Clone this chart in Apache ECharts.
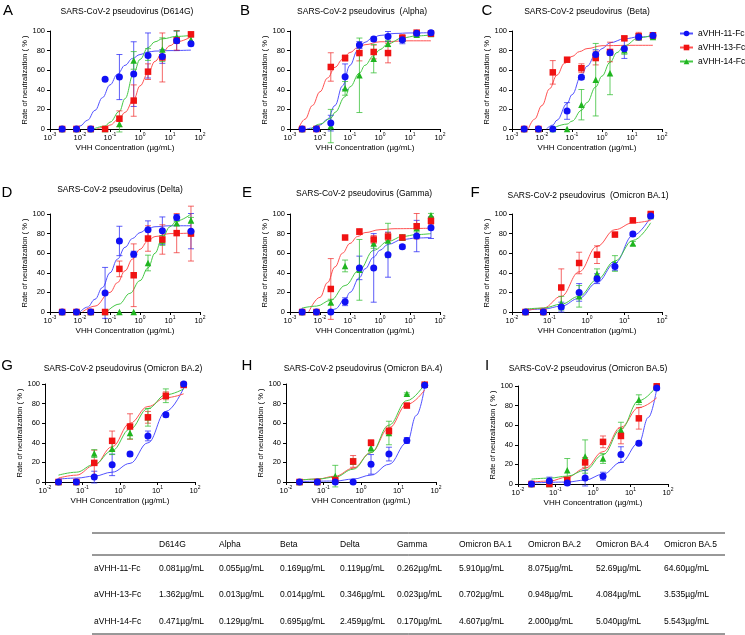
<!DOCTYPE html>
<html><head><meta charset="utf-8">
<script src="https://cdn.jsdelivr.net/npm/echarts@6/dist/echarts.min.js"></script>
<style>html,body{margin:0;padding:0;background:#fff}#c{width:745px;height:635px}</style>
</head><body><div id="c"></div>
<script>
// ---------- DATA ----------
const antibodyNames = ['aVHH-11-Fc', 'aVHH-13-Fc', 'aVHH-14-Fc'];
const conc10 = [0.00254, 0.00762, 0.0229, 0.0686, 0.206, 0.617, 1.85, 5.56, 16.7, 50];
const conc8 = [0.0229, 0.0686, 0.206, 0.617, 1.85, 5.56, 16.7, 50];
const yTicks = [0, 20, 40, 60, 80, 100];

// A: D614G
const A11 = [0, 0, 0, 50.7, 53, 56, 75, 74, 90, 87];
const A11e = [0, 0, 0, 1.5, 23, 33, 23, 7, 10, 2];
const A13 = [0, 0, 0, 0, 10.5, 29, 58.5, 73, 90.5, 96.6];
const A13e = [0, 0, 0, 0, 8, 16, 8, 25, 10, 2];
const A14 = [0, 0, 0, 0, 5, 70, 76, 81, 94, 91];
const A14e = [0, 0, 0, 0, 8, 9, 6, 12, 6, 3];
const fitA11 = [[0.0063,0],[0.01,3],[0.0178,9],[0.0316,19],[0.0562,32],[0.1,45],[0.178,56],[0.316,65],[0.562,72],[1,76],[1.78,78.5],[3.16,79.5],[10,80],[50,80.5]];
const fitA13 = [[0.036,0],[0.0686,2],[0.1,4],[0.206,11],[0.316,17],[0.617,30],[1,44],[1.85,57],[3.16,69],[5.56,78],[10,85],[16.7,89],[50,94]];
const fitA14 = [[0.028,0],[0.0686,3],[0.1,7],[0.206,18],[0.316,31],[0.617,57],[1,71],[1.85,83],[3.16,89],[5.56,92],[16.7,94.5],[50,95.5]];

// B: Alpha
const B11 = [0, 0, 6, 53.4, 85.7, 91.8, 94.5, 91, 97.6, 98.3];
const B11e = [0, 0, 8, 13, 3.5, 2, 5, 4, 1, 2];
const B13 = [0, 0, 63.3, 72.4, 77.5, 78.6, 77.5, 92.9, 98.3, 97.3];
const B13e = [0, 0, 14.5, 3, 8, 7, 10, 3.5, 1, 1];
const B14 = [0, 1, 3, 41.5, 54.8, 71.8, 87, 92, 96.3, 97];
const B14e = [0, 0, 17, 7, 38, 14.5, 3, 3, 2, 1];
const fitB11 = [[0.0036,0],[0.00562,1],[0.01,4],[0.0178,10],[0.0316,24],[0.0562,44],[0.1,65],[0.178,80],[0.316,88.5],[0.562,93],[1,95.5],[3.16,97.5],[10,98],[50,98.3]];
const fitB13 = [[0.0019,0],[0.00316,10],[0.00562,24],[0.01,38],[0.0178,52],[0.0316,63],[0.0562,71],[0.1,78],[0.178,83],[0.316,86],[1,89],[10,90],[50,90]];
const fitB14 = [[0.005,0],[0.01,5],[0.0229,11],[0.0316,17],[0.0686,33],[0.1,43],[0.206,57],[0.316,65],[0.617,75],[1,81],[1.85,87],[5.56,93],[16.7,95],[50,96]];

// C: Beta
const C11 = [0, 0, 0, 18.4, 52.7, 75.9, 77.9, 82, 94, 95.5];
const C11e = [0, 0, 0, 8.5, 2, 5, 2.5, 10, 3, 3];
const C13 = [0, 0, 57.8, 70.7, 62, 72.4, 78.6, 92.5, 94.6, 95.6];
const C13e = [0, 0, 12, 1, 4.5, 7, 10, 2, 4, 2];
const C14 = [0, 0, 0, 0, 24.8, 50.3, 57, 80.3, 94, 94];
const C14e = [0, 0, 0, 0, 15.5, 37, 22, 4, 3, 2];
const fitC11 = [[0.014,0],[0.0229,4],[0.0316,9],[0.0686,26],[0.1,35],[0.206,55],[0.316,64],[0.617,76],[1,82],[1.85,88],[5.56,92],[16.7,94],[50,94.5]];
const fitC13 = [[0.0035,0],[0.00562,10],[0.01,24],[0.0178,41],[0.0316,55],[0.0562,67],[0.1,74],[0.178,79],[0.316,82],[1,85],[10,85.4],[50,85.4]];
const fitC14 = [[0.02,0],[0.0686,5],[0.1,8],[0.206,19],[0.316,27],[0.617,43],[1,54],[1.85,68],[3.16,78],[5.56,85],[16.7,93],[50,96]];

// D: Delta
const D11 = [0, 0, 0, 19.5, 72.5, 59, 84, 83, 96.5, 82.5];
const D11e = [0, 0, 0, 26, 15, 3, 9, 14, 3, 18];
const D13 = [0, 0, 0, 0, 44, 37.5, 75, 74, 80.5, 80];
const D13e = [0, 0, 0, 0, 8, 32, 13, 15, 20, 28];
const D14 = [0, 0, 0, 0, 0, 0, 50, 73, 90.5, 93.5];
const D14e = [0, 0, 0, 0, 0, 0, 8, 5, 2, 3];
const fitD11 = [[0.01,0],[0.0178,5],[0.0316,13],[0.0562,25],[0.1,40],[0.178,54],[0.316,66],[0.562,75],[1,81],[1.78,85],[3.16,87],[10,88],[50,88]];
const fitD13 = [[0.012,0],[0.0316,6],[0.1,20],[0.178,30],[0.316,42],[0.562,54],[1,64],[1.78,72],[3.16,77],[10,80],[50,80.5]];
const fitD14 = [[0.077,0],[0.2,8],[0.46,19],[1,32],[1.85,45],[3.16,60],[5.56,76],[10,87],[16.7,93],[50,100]];

// E: Gamma
const E11 = [0, 0, 0, 10.5, 45, 45, 58.5, 66.7, 77.5, 86];
const E11e = [0, 0, 0, 4, 12, 35, 23, 2, 16, 11];
const E13 = [0, 0, 23.5, 76, 82, 74, 77, 76, 87.5, 93];
const E13e = [0, 0, 31, 1.5, 3, 4, 4, 2, 13, 4];
const E14 = [0, 0, 10, 47, 43, 70, 73, 76, 85.7, 98.6];
const E14e = [0, 0, 3, 6, 31, 5, 17.5, 3, 4, 2];
const fitE11 = [[0.02,0],[0.0316,3],[0.0686,13],[0.1,20],[0.206,35],[0.316,44],[0.617,56],[1,63],[1.85,69],[5.56,74],[16.7,75.5],[50,76]];
const fitE13 = [[0.0042,0],[0.01,15],[0.0178,30],[0.0316,46],[0.0562,60],[0.1,70],[0.178,77],[0.316,81],[1,84],[3.16,85],[50,85.5]];
const fitE14 = [[0.0025,4],[0.00762,6],[0.0229,12],[0.0686,27],[0.206,43],[0.617,63],[1.85,72],[5.56,77],[16.7,79],[50,80]];

// F: Omicron BA.1
const F11 = [0, 0, 5, 20, 34, 46.5, 79.5, 98];
const F11e = [0, 0, 5, 9, 5, 4, 2, 1.5];
const F13 = [0, 0, 25, 50, 58.5, 79, 93.5, 100];
const F13e = [0, 0, 19, 11, 9, 1, 1.5, 1];
const F14 = [0, 0, 9, 16, 39, 49.5, 70, 98];
const F14e = [0, 0, 7, 11, 5, 8, 2, 1];
const fitF11 = [[0.0229,2],[0.0686,3],[0.206,6],[0.617,14],[1.85,30],[5.56,50],[16.7,78],[50,97]];
const fitF13 = [[0.0229,1],[0.0686,4],[0.206,16],[0.617,41],[1.85,67],[5.56,84],[16.7,91],[50,93.5]];
const fitF14 = [[0.0229,3],[0.0686,4],[0.206,8],[0.617,16],[1.85,33],[5.56,52],[16.7,73],[50,91]];

// G: Omicron BA.2
const G11 = [0, 0, 5, 17.5, 28.5, 47, 68.5, 100];
const G11e = [0, 0, 6, 11, 2, 5, 2, 1];
const G13 = [0, 0, 19.5, 42, 56.6, 66, 88, 99];
const G13e = [0, 0, 13, 10, 13, 6, 4, 1];
const G14 = [0, 0, 29, 34, 50, 66, 88, 100];
const G14e = [0, 0, 4, 6, 6, 9, 7, 1];
const fitG11 = [[0.0229,3],[0.0686,4],[0.206,6],[0.617,10],[1.85,19],[5.56,40],[16.7,72],[50,96]];
const fitG13 = [[0.0229,4],[0.0686,7],[0.206,17],[0.617,36],[1.85,60],[5.56,77],[16.7,86],[50,90]];
const fitG14 = [[0.0229,7],[0.0686,10],[0.206,18],[0.617,32],[1.85,54],[5.56,75],[16.7,89],[50,95]];

// H: Omicron BA.4
const H11 = [0, 0, 0, 0, 18, 28.5, 42.4, 98.6];
const H11e = [0, 0, 0, 0, 10, 7, 3, 1];
const H13 = [0, 0, 2, 21, 40, 52, 78, 99.3];
const H13e = [0, 0, 0, 6, 3, 4, 2, 1];
const H14 = [0, 0, 6, 21, 35, 50, 90, 100];
const H14e = [0, 0, 11, 3, 4, 12, 1, 1];
const fitH11 = [[0.0229,0.5],[0.206,1],[0.617,3],[1.85,7],[5.56,18],[16.7,40],[30,68],[50,97]];
const fitH13 = [[0.0229,2],[0.0686,3],[0.206,6],[0.617,14],[1.85,30],[5.56,55],[16.7,79],[50,94]];
const fitH14 = [[0.0229,2],[0.0686,3],[0.206,5],[0.617,13],[1.85,30],[5.56,58],[16.7,83],[50,100]];

// I: Omicron BA.5
const I11 = [0, 3, 1, 6, 8, 30, 41.7, 98];
const I11e = [0, 4, 2, 8, 4, 8, 2, 1];
const I13 = [0, 0, 4, 22, 43, 49, 67, 99.7];
const I13e = [0, 0, 3, 5, 6, 8, 11, 1];
const I14 = [0, 0, 14, 28, 26, 55, 86, 100];
const I14e = [0, 0, 12, 17, 5, 8, 5, 1];
const fitI11 = [[0.0229,1],[0.206,2],[0.617,4],[1.85,10],[5.56,22],[16.7,42],[30,68],[50,97]];
const fitI13 = [[0.0229,2],[0.0686,3],[0.206,7],[0.617,16],[1.85,33],[5.56,58],[16.7,78],[50,88]];
const fitI14 = [[0.0229,5],[0.0686,6],[0.206,8],[0.617,14],[1.85,30],[5.56,56],[16.7,85],[50,100]];

// Table of IC50
const tableCols = ['D614G', 'Alpha', 'Beta', 'Delta', 'Gamma', 'Omicron BA.1', 'Omicron BA.2', 'Omicron BA.4', 'Omicron BA.5'];
const ic50_11 = ['0.081', '0.055', '0.169', '0.119', '0.262', '5.910', '8.075', '52.69', '64.60'];
const ic50_13 = ['1.362', '0.013', '0.014', '0.346', '0.023', '0.702', '0.948', '4.084', '3.535'];
const ic50_14 = ['0.471', '0.129', '0.695', '2.459', '0.170', '4.607', '2.000', '5.040', '5.543'];
const unit = 'µg/mL';

// ---------- PANELS ----------
const panels = [
  {letter:'A', title:'SARS-CoV-2 pseudovirus (D614G)', conc:conc10, xmin:0.001, sets:[[A11,A11e,fitA11],[A13,A13e,fitA13],[A14,A14e,fitA14]]},
  {letter:'B', title:'SARS-CoV-2 pseudovirus  (Alpha)', conc:conc10, xmin:0.001, sets:[[B11,B11e,fitB11],[B13,B13e,fitB13],[B14,B14e,fitB14]]},
  {letter:'C', title:'SARS-CoV-2 pseudovirus  (Beta)', conc:conc10, xmin:0.001, sets:[[C11,C11e,fitC11],[C13,C13e,fitC13],[C14,C14e,fitC14]]},
  {letter:'D', title:'SARS-CoV-2 pseudovirus (Delta)', conc:conc10, xmin:0.001, sets:[[D11,D11e,fitD11],[D13,D13e,fitD13],[D14,D14e,fitD14]]},
  {letter:'E', title:'SARS-CoV-2 pseudovirus (Gamma)', conc:conc10, xmin:0.001, sets:[[E11,E11e,fitE11],[E13,E13e,fitE13],[E14,E14e,fitE14]]},
  {letter:'F', title:'SARS-CoV-2 pseudovirus  (Omicron BA.1)', conc:conc8, xmin:0.01, sets:[[F11,F11e,fitF11],[F13,F13e,fitF13],[F14,F14e,fitF14]]},
  {letter:'G', title:'SARS-CoV-2 pseudovirus (Omicron BA.2)', conc:conc8, xmin:0.01, sets:[[G11,G11e,fitG11],[G13,G13e,fitG13],[G14,G14e,fitG14]]},
  {letter:'H', title:'SARS-CoV-2 pseudovirus (Omicron BA.4)', conc:conc8, xmin:0.01, sets:[[H11,H11e,fitH11],[H13,H13e,fitH13],[H14,H14e,fitH14]]},
  {letter:'I', title:'SARS-CoV-2 pseudovirus (Omicron BA.5)', conc:conc8, xmin:0.01, sets:[[I11,I11e,fitI11],[I13,I13e,fitI13],[I14,I14e,fitI14]]}
];

// ---------- LAYOUT / STYLE ----------
const FONT = '"Liberation Sans", Arial, Helvetica, sans-serif';
const layout = [
  {l:50, t:31, titleX:127, titleY:12, letX:8, letY:11},
  {l:290, t:31, titleX:362, titleY:12, letX:245, letY:11},
  {l:512, t:31, titleX:587, titleY:12, letX:487, letY:11},
  {l:50, t:214, titleX:120, titleY:190, letX:7, letY:193},
  {l:290, t:214, titleX:364, titleY:194, letX:247, letY:193},
  {l:512, t:214, titleX:588, titleY:196, letX:475, letY:193},
  {l:45, t:384, titleX:123, titleY:369, letX:7, letY:366},
  {l:286, t:384, titleX:363, titleY:369, letX:247, letY:366},
  {l:518, t:386, titleX:588, titleY:369, letX:487, letY:366}
];
const PW = 150, PH = 98;
const styles = [
  {point:'#1010f5', curve:'#5252ff', err:'rgba(40,40,245,0.75)', symbol:'circle', size:7},
  {point:'#f01212', curve:'#ff5252', err:'rgba(240,40,40,0.7)', symbol:'rect', size:6.5},
  {point:'#1fb51f', curve:'#46c846', err:'rgba(50,190,50,0.75)', symbol:'triangle', size:6.5}
];

const grids = [], xAxes = [], yAxes = [], series = [], graphics = [];

function errRender(color) {
  return function (params, api) {
    const x = api.value(0), y = api.value(1), e = api.value(2);
    if (!e) return null;
    const top = api.coord([x, y + e]);
    const bot = api.coord([x, y - e]);
    const st = {stroke: color, lineWidth: 1};
    const w = 3;
    return {type:'group', children:[
      {type:'line', shape:{x1:top[0], y1:top[1], x2:bot[0], y2:bot[1]}, style:st},
      {type:'line', shape:{x1:top[0]-w, y1:top[1], x2:top[0]+w, y2:top[1]}, style:st},
      {type:'line', shape:{x1:bot[0]-w, y1:bot[1], x2:bot[0]+w, y2:bot[1]}, style:st}
    ]};
  };
}

panels.forEach((p, i) => {
  const L = layout[i];
  grids.push({left:L.l, top:L.t, width:PW, height:PH, containLabel:false});
  xAxes.push({
    type:'log', logBase:10, gridIndex:i, min:p.xmin, max:100,
    name:'VHH Concentration (µg/mL)', nameLocation:'middle', nameGap:15,
    nameTextStyle:{fontSize:8, fontFamily:FONT, color:'#000'},
    axisLine:{show:true, onZero:false, lineStyle:{color:'#000', width:1}},
    axisTick:{show:true, length:3, lineStyle:{color:'#000'}},
    minorTick:{show:false}, splitLine:{show:false},
    axisLabel:{margin:3, fontFamily:FONT, color:'#000',
      formatter: v => '{b|10}{s|' + Math.round(Math.log10(v)) + '}',
      rich:{b:{fontSize:7.5, fontFamily:FONT, color:'#000', lineHeight:10, verticalAlign:'bottom'},
            s:{fontSize:5, fontFamily:FONT, color:'#000', lineHeight:10, verticalAlign:'top'}}}
  });
  yAxes.push({
    type:'value', gridIndex:i, min:yTicks[0], max:yTicks[yTicks.length-1], interval:yTicks[1]-yTicks[0],
    name:'Rate of neutralization ( % )', nameLocation:'middle', nameGap:21, nameRotate:90,
    nameTextStyle:{fontSize:7.5, fontFamily:FONT, color:'#000'},
    axisLine:{show:true, lineStyle:{color:'#000', width:1}},
    axisTick:{show:true, length:3, lineStyle:{color:'#000'}},
    splitLine:{show:false},
    axisLabel:{margin:5, fontSize:7.5, fontFamily:FONT, color:'#000'}
  });
  p.sets.forEach((s, k) => {
    const st = styles[k];
    series.push({name:antibodyNames[k], type:'line', xAxisIndex:i, yAxisIndex:i, data:s[2],
      smooth:0.4, smoothMonotone:'x', showSymbol:false, symbol:st.symbol, symbolSize:st.size,
      lineStyle:{color:st.curve, width:1}, itemStyle:{color:st.point}, silent:true, z:2, animation:false});
  });
  p.sets.forEach((s, k) => {
    const st = styles[k];
    series.push({name:antibodyNames[k], type:'custom', xAxisIndex:i, yAxisIndex:i,
      data:p.conc.map((c, j) => [c, s[0][j], s[1][j]]), encode:{x:0, y:1},
      renderItem:errRender(st.err), clip:false, silent:true, z:3, animation:false});
  });
  [2, 1, 0].forEach(k => {
    const st = styles[k], s = p.sets[k];
    series.push({name:antibodyNames[k], type:'scatter', xAxisIndex:i, yAxisIndex:i,
      data:p.conc.map((c, j) => [c, s[0][j]]), symbol:st.symbol, symbolSize:st.size,
      itemStyle:{color:st.point, opacity:1}, clip:false, silent:true, z:4, animation:false});
  });
  graphics.push({type:'text', x:L.titleX, y:L.titleY, style:{text:p.title, fontSize:8.5, fontFamily:FONT, fill:'#000', align:'center', verticalAlign:'middle'}});
  graphics.push({type:'text', x:L.letX, y:L.letY, style:{text:p.letter, fontSize:15, fontFamily:FONT, fill:'#000', align:'center', verticalAlign:'middle'}});
});

// table
const colX = [159, 219, 280, 340, 397, 459, 528, 596, 664];
const rowLabelX = 94, tableL = 92, tableR = 725;
const headerY = 545, rowY = [569, 595, 622];
[533, 555, 634].forEach(y => graphics.push({type:'line', shape:{x1:tableL, y1:y, x2:tableR, y2:y}, style:{stroke:'#333', lineWidth:1}}));
tableCols.forEach((c, j) => graphics.push({type:'text', x:colX[j], y:headerY, style:{text:c, fontSize:8.5, fontFamily:FONT, fill:'#000', align:'left', verticalAlign:'middle'}}));
[ic50_11, ic50_13, ic50_14].forEach((row, r) => {
  graphics.push({type:'text', x:rowLabelX, y:rowY[r], style:{text:antibodyNames[r], fontSize:8.5, fontFamily:FONT, fill:'#000', align:'left', verticalAlign:'middle'}});
  row.forEach((v, j) => graphics.push({type:'text', x:colX[j], y:rowY[r], style:{text:v + unit, fontSize:8.5, fontFamily:FONT, fill:'#000', align:'left', verticalAlign:'middle'}}));
});

const chart = echarts.init(document.getElementById('c'), null, {renderer:'canvas'});
chart.setOption({
  animation:false,
  backgroundColor:'#fff',
  grid:grids, xAxis:xAxes, yAxis:yAxes, series:series, graphic:graphics,
  legend:{orient:'vertical', left:679, top:27, width:66, itemWidth:13, itemHeight:7, itemGap:5, padding:[2,0,2,0],
    textStyle:{fontSize:8.5, fontFamily:FONT, color:'#000', overflow:'none', width:60}, data:antibodyNames, selectedMode:false}
});
</script></body></html>
